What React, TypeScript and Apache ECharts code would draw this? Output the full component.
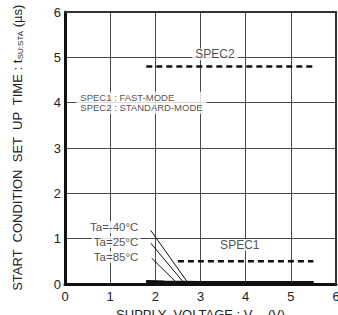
import React, { useEffect, useRef } from "react";
import * as echarts from "echarts";

const xTicks = [0, 1, 2, 3, 4, 5, 6];
const yTicks = [0, 1, 2, 3, 4, 5, 6];

// measured start condition set-up time (near zero) per temperature
const curveTa40: [number, number][] = [[1.8, 0.06], [2.2, 0.05], [3.0, 0.04], [5.5, 0.04]];
const curveTa25: [number, number][] = [[1.8, 0.05], [2.2, 0.04], [3.0, 0.03], [5.5, 0.03]];
const curveTa85: [number, number][] = [[1.8, 0.04], [2.2, 0.03], [3.0, 0.02], [5.5, 0.02]];

// spec limits
const spec1: [number, number][] = [[2.5, 0.5], [5.5, 0.5]];
const spec2: [number, number][] = [[1.8, 4.8], [5.5, 4.8]];

// leader lines from temperature labels to curves
const leader40: [number, number][] = [[1.9, 1.18], [2.72, 0.03]];
const leader25: [number, number][] = [[1.9, 0.9], [2.63, 0.03]];
const leader85: [number, number][] = [[1.92, 0.57], [2.47, 0.03]];

const taLabels = ["Ta=-40°C", "Ta=25°C", "Ta=85°C"];
const taLabelAnchors: [number, number][] = [[1.68, 1.257], [1.68, 0.926], [1.68, 0.595]];

const FONT = "'Liberation Sans', Arial, sans-serif";
const NARROW = "'Liberation Sans Narrow', 'Liberation Sans', Arial, sans-serif";
const GRID_COLOR = "#4a4a4a";

export default function App() {
  const ref = useRef<HTMLDivElement>(null);
  useEffect(() => {
    if (!ref.current) return;
    const chart = echarts.init(ref.current, null, { renderer: "svg" });
    const lineSeries = (data: [number, number][], width: number, type: any = "solid", color = "#111", z = 3) => ({
      type: "line",
      data,
      symbol: "none",
      silent: true,
      clip: false,
      lineStyle: { color, width, type, opacity: 1 },
      z,
    });
    const xMin = xTicks[0];
    const xMax = xTicks[xTicks.length - 1];
    const yMin = yTicks[0];
    const yMax = yTicks[yTicks.length - 1];
    const labelItems: any[] = [
      ...taLabels.map((t, i) => ({
        value: taLabelAnchors[i],
        label: {
          show: true,
          formatter: t,
          position: "left",
          distance: 0,
          fontSize: 11.5,
          fontFamily: FONT,
          color: "#222",
          backgroundColor: "#fff",
          padding: [0, 2],
        },
      })),
      {
        value: [3.32, 5.07],
        label: {
          show: true,
          formatter: "SPEC2",
          position: "inside",
          fontSize: 12,
          fontFamily: FONT,
          color: "#222",
          backgroundColor: "#fff",
          padding: [0, 3],
        },
      },
      {
        value: [3.87, 0.86],
        label: {
          show: true,
          formatter: "SPEC1",
          position: "inside",
          fontSize: 12,
          fontFamily: FONT,
          color: "#222",
          backgroundColor: "#fff",
          padding: [0, 3],
        },
      },
      {
        value: [0.24, 4.0],
        label: {
          show: true,
          formatter: "SPEC1 : FAST-MODE\nSPEC2 : STANDARD-MODE",
          position: "right",
          distance: 0,
          align: "left",
          fontSize: 9.5,
          lineHeight: 10,
          fontFamily: FONT,
          color: "#222",
          backgroundColor: "#fff",
          padding: [1, 4],
        },
      },
    ];
    chart.setOption({
      animation: false,
      grid: {
        left: 65,
        right: 2,
        top: 12,
        bottom: 31,
        containLabel: false,
        outerBoundsMode: "none",
      },
      xAxis: [
        {
          type: "value",
          min: xMin,
          max: xMax,
          interval: 1,
          name: "SUPPLY  VOLTAGE : V{sub|DD} (V)",
          nameLocation: "middle",
          nameGap: 23,
          nameTextStyle: {
            fontSize: 13,
            fontFamily: NARROW,
            color: "#222",
            verticalAlign: "top",
            rich: { sub: { fontSize: 8, fontFamily: NARROW, color: "#222", padding: [6, 0, 0, 0] } },
          },
          axisLine: { show: true, onZero: false, lineStyle: { color: "#111", width: 3 } },
          axisTick: { show: false },
          axisLabel: { fontSize: 13, fontFamily: FONT, color: "#222", margin: 6 },
          splitLine: { show: true, lineStyle: { color: GRID_COLOR, width: 1, opacity: 1 } },
          z: 0,
        },
        {
          type: "value",
          position: "top",
          min: xMin,
          max: xMax,
          interval: 1,
          axisLine: { show: true, onZero: false, lineStyle: { color: "#333", width: 2 } },
          axisTick: { show: false },
          axisLabel: { show: false },
          splitLine: { show: false },
          z: 10,
        },
      ],
      yAxis: [
        {
          type: "value",
          min: yMin,
          max: yMax,
          interval: 1,
          name: "START  CONDITION  SET  UP  TIME : t{sub|SU:STA} (µs)",
          nameLocation: "middle",
          nameRotate: 90,
          nameGap: 41,
          nameTextStyle: {
            fontSize: 13,
            fontFamily: NARROW,
            color: "#222",
            rich: { sub: { fontSize: 8, fontFamily: NARROW, color: "#222", padding: [6, 0, 0, 0] } },
          },
          axisLine: { show: true, onZero: false, lineStyle: { color: "#111", width: 3 } },
          axisTick: { show: false },
          axisLabel: { fontSize: 13, fontFamily: FONT, color: "#222", margin: 4 },
          splitLine: { show: true, lineStyle: { color: GRID_COLOR, width: 1, opacity: 1 } },
          z: 0,
        },
        {
          type: "value",
          position: "right",
          min: yMin,
          max: yMax,
          interval: 1,
          axisLine: { show: true, onZero: false, lineStyle: { color: "#333", width: 2 } },
          axisTick: { show: false },
          axisLabel: { show: false },
          splitLine: { show: false },
          z: 10,
        },
      ],
      series: [
        lineSeries(curveTa40, 2.5),
        lineSeries(curveTa25, 2.5),
        lineSeries(curveTa85, 2.5),
        lineSeries(leader40, 1),
        lineSeries(leader25, 1),
        lineSeries(leader85, 1),
        lineSeries(spec1, 2.5, [6, 4]),
        lineSeries(spec2, 2.5, [6, 4]),
        {
          type: "scatter",
          data: labelItems,
          symbolSize: 1,
          itemStyle: { color: "transparent" },
          silent: true,
          z: 5,
        },
      ],
    });
    return () => chart.dispose();
  }, []);
  return <div ref={ref} style={{ width: 338, height: 315, position: "absolute", left: 0, top: 0 }} />;
}
